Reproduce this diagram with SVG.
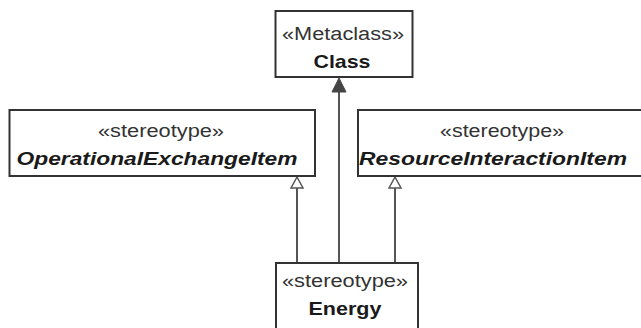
<svg xmlns="http://www.w3.org/2000/svg" width="641" height="328" viewBox="0 0 641 328">
  <style>
    .box { fill: #ffffff; stroke: #333333; stroke-width: 2; }
    .st { font-family: "Liberation Sans", Arial, sans-serif; font-size: 18px; fill: #333333; text-anchor: middle; }
    .nm { font-family: "Liberation Sans", Arial, sans-serif; font-size: 19px; font-weight: bold; fill: #1a1a1a; text-anchor: middle; }
    .it { font-style: italic; }
    .edge { stroke: #555555; stroke-width: 2; fill: none; }
    .hollow { fill: #ffffff; stroke: #555555; stroke-width: 1.5; }
    .filled { fill: #444444; stroke: #444444; stroke-width: 1; }
  </style>
  <rect width="641" height="328" fill="#ffffff"/>
  <g id="connectors">
    <line class="edge" x1="297" y1="263" x2="297" y2="188"/>
    <polygon class="hollow" points="297,177 291,188 303,188"/>
    <line class="edge" x1="339" y1="263" x2="339" y2="91"/>
    <polygon class="filled" points="339,78 332,92 346,92"/>
    <line class="edge" x1="395" y1="263" x2="395" y2="188"/>
    <polygon class="hollow" points="395,177 389,188 401,188"/>
  </g>
  <g id="class">
    <rect class="box" x="275.5" y="11" width="137" height="66"/>
    <text class="st" x="343" y="40" textLength="122" lengthAdjust="spacingAndGlyphs">«Metaclass»</text>
    <text class="nm" x="342" y="68" textLength="57" lengthAdjust="spacingAndGlyphs">Class</text>
  </g>
  <g id="operationalExchangeItem">
    <rect class="box" x="9.5" y="110" width="305.5" height="66"/>
    <text class="st" x="161" y="137" textLength="126" lengthAdjust="spacingAndGlyphs">«stereotype»</text>
    <text class="nm it" x="157" y="165" textLength="281" lengthAdjust="spacingAndGlyphs">OperationalExchangeItem</text>
  </g>
  <g id="resourceInteractionItem">
    <rect class="box" x="358" y="110" width="290" height="66"/>
    <text class="st" x="502" y="137" textLength="124" lengthAdjust="spacingAndGlyphs">«stereotype»</text>
    <text class="nm it" x="493" y="165" textLength="268" lengthAdjust="spacingAndGlyphs">ResourceInteractionItem</text>
  </g>
  <g id="energy">
    <rect class="box" x="276" y="263" width="142" height="80"/>
    <text class="st" x="345" y="287" textLength="126" lengthAdjust="spacingAndGlyphs">«stereotype»</text>
    <text class="nm" x="345" y="315" textLength="73" lengthAdjust="spacingAndGlyphs">Energy</text>
  </g>
</svg>
